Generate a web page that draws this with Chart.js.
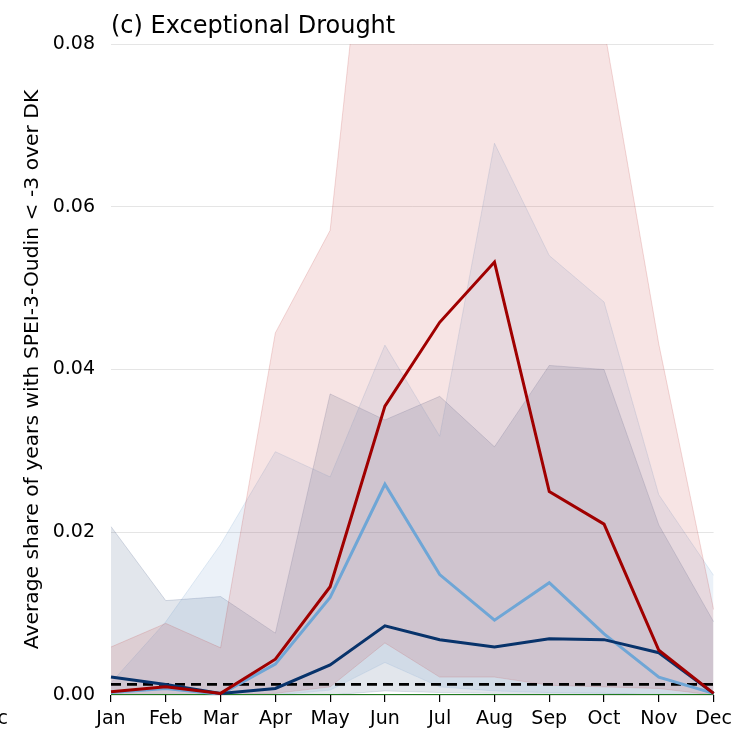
<!DOCTYPE html>
<html>
<head>
<meta charset="utf-8">
<script src="https://cdn.jsdelivr.net/npm/chart.js@4"></script>
<style>
  body { margin: 0; background: #fff; }
  #wrap { position: relative; width: 738px; height: 731px; }
</style>
</head>
<body>
<div id="wrap"><canvas id="chart"></canvas></div>
<script>
// month labels
const months = ['Jan', 'Feb', 'Mar', 'Apr', 'May', 'Jun', 'Jul', 'Aug', 'Sep', 'Oct', 'Nov', 'Dec'];
const yTicks = [0.00, 0.02, 0.04, 0.06, 0.08];

// central lines
const redLine  = [0.0004, 0.0010, 0.0002, 0.0044, 0.0133, 0.0355, 0.0458, 0.0532, 0.0250, 0.0210, 0.0055, 0.0002];
const blueLine = [0.0003, 0.0008, 0.0001, 0.0038, 0.0120, 0.0259, 0.0148, 0.0092, 0.0138, 0.0075, 0.0022, 0.0002];
const navyLine = [0.0022, 0.0013, 0.0002, 0.0008, 0.0037, 0.0085, 0.0068, 0.0059, 0.0069, 0.0068, 0.0052, 0.0002];

// spread bands (upper / lower)
const redHigh  = [0.0059, 0.0088, 0.0058, 0.0445, 0.0571, 0.1200, 0.1150, 0.1300, 0.1100, 0.0820, 0.0431, 0.0105];
const redLow   = [0.0000, 0.0000, 0.0000, 0.0002, 0.0010, 0.0064, 0.0022, 0.0022, 0.0012, 0.0010, 0.0008, 0.0000];
const blueHigh = [0.0015, 0.0090, 0.0185, 0.0299, 0.0268, 0.0430, 0.0318, 0.0678, 0.0540, 0.0483, 0.0246, 0.0147];
const blueLow  = [0.0000, 0.0000, 0.0000, 0.0000, 0.0006, 0.0040, 0.0010, 0.0005, 0.0003, 0.0002, 0.0000, 0.0000];
const navyHigh = [0.0207, 0.0116, 0.0121, 0.0076, 0.0370, 0.0338, 0.0367, 0.0305, 0.0405, 0.0400, 0.0209, 0.0090];
const navyLow  = [0.0000, 0.0000, 0.0000, 0.0000, 0.0000, 0.0005, 0.0003, 0.0002, 0.0002, 0.0002, 0.0000, 0.0000];

// reference levels
const threshold = months.map(() => 0.0013);
const observed  = months.map(() => 0.0);

const FONT = 'DejaVu Sans';

function line(label, data, color, width, extra)
{
    return Object.assign({
        label: label,
        data: data,
        borderColor: color,
        borderWidth: width,
        pointRadius: 0,
        tension: 0,
        fill: false
    }, extra || {});
}

function band(label, data, edge, fillColor)
{
    return line(label, data, edge, 1, { fill: '-1', backgroundColor: fillColor });
}

// title and the clipped neighbour label drawn on the canvas
const textPlugin = {
    id: 'textPlugin',
    afterDraw(chart) {
        const ctx = chart.ctx;
        const area = chart.chartArea;
        ctx.save();
        ctx.fillStyle = '#000';
        ctx.font = '24px "' + FONT + '"';
        ctx.textAlign = 'left';
        ctx.textBaseline = 'alphabetic';
        ctx.fillText('(c) Exceptional Drought', area.left, 33);
        ctx.font = '19px "' + FONT + '"';
        ctx.textAlign = 'right';
        ctx.textBaseline = 'middle';
        ctx.fillText('Dec', 8, 719);
        ctx.restore();
    }
};

const datasets = [
    line('red', redLine, '#a00000', 3),
    line('navy', navyLine, '#08336b', 3),
    line('lightblue', blueLine, '#6fa6d6', 3),
    line('threshold', threshold, '#000', 2.6, { borderDash: [10, 6] }),
    line('observed', observed, '#1f7a1f', 2),
    line('redLow', redLow, 'rgba(190,50,50,0.15)', 1),
    band('redHigh', redHigh, 'rgba(190,50,50,0.18)', 'rgba(190,50,50,0.13)'),
    line('blueLow', blueLow, 'rgba(100,150,200,0.15)', 1),
    band('blueHigh', blueHigh, 'rgba(100,150,200,0.18)', 'rgba(100,150,200,0.13)'),
    line('navyLow', navyLow, 'rgba(20,50,100,0.12)', 1),
    band('navyHigh', navyHigh, 'rgba(20,50,100,0.15)', 'rgba(20,50,100,0.12)')
];

new Chart(document.getElementById('chart').getContext('2d'), {
    type: 'line',
    data: { labels: months, datasets: datasets },
    plugins: [textPlugin],
    options: {
        responsive: true,
        maintainAspectRatio: false,
        animation: false,
        layout: { padding: { top: 44, right: 23, left: 0, bottom: 0 } },
        plugins: { legend: { display: false }, tooltip: { enabled: false } },
        scales: {
            x: {
                offset: false,
                border: { display: false },
                grid: { drawOnChartArea: false, drawTicks: true, tickLength: 7, color: '#000', lineWidth: 1.2 },
                ticks: { color: '#000', font: { family: FONT, size: 19 }, padding: 6, maxRotation: 0, autoSkip: false },
                afterFit(scale) { scale.height = 36; }
            },
            y: {
                min: 0,
                max: 0.08,
                border: { display: false },
                grid: { color: 'rgba(0,0,0,0.1)', drawTicks: false },
                ticks: {
                    stepSize: 0.02,
                    padding: 16,
                    color: '#000',
                    font: { family: FONT, size: 19 },
                    callback: (v) => yTicks.some(t => Math.abs(t - v) < 1e-9) ? v.toFixed(2) : ''
                },
                title: {
                    display: true,
                    text: 'Average share of years with SPEI-3-Oudin < -3 over DK',
                    color: '#000',
                    font: { family: FONT, size: 20.3 },
                    padding: { top: 21, bottom: 0 }
                },
                afterFit(scale) { scale.width = 111; }
            }
        }
    }
});
</script>
</body>
</html>
